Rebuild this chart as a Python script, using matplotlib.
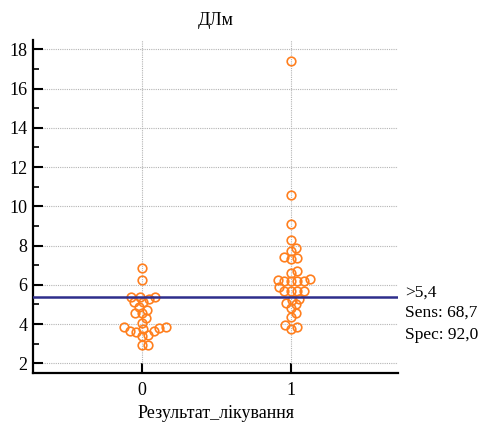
import numpy as np
import matplotlib
matplotlib.use("Agg")
import matplotlib.pyplot as plt
import matplotlib.transforms as mtransforms

plt.rcParams['font.family'] = ['Liberation Serif', 'DejaVu Serif']

# значення ДЛм по групах результату лікування
groups = [0, 1]
dlm_0 = [6.87, 6.26, 5.4, 5.4, 5.4, 5.3, 5.1, 5.1, 4.85, 4.72, 4.55, 4.55, 4.31,
         4.07, 3.81, 3.83, 3.83, 3.73, 3.44, 3.41, 3.61, 3.64, 3.64, 2.93, 2.93]
dlm_1 = [17.4, 10.6, 9.1, 8.3, 7.9, 7.7, 7.4, 7.35, 7.3, 6.7, 6.6, 6.3, 6.25, 6.2,
         6.2, 6.2, 6.2, 5.9, 5.7, 5.7, 5.7, 5.7,
         5.3, 5.25, 5.05, 5.0, 4.8, 4.55, 4.35, 3.77, 3.85, 3.94]
cutoff = 5.4
cutoff_text = ['>5,4', 'Sens: 68,7', 'Spec: 92,0']

orange = '#ff7f1e'
navy = '#2e2e8c'

fig = plt.figure(figsize=(4.82, 4.26), dpi=100)
ax = fig.add_axes([0.0685, 0.125, 0.7575, 0.781])
ax.set_xlim(-0.73, 1.72)
ax.set_ylim(1.52, 18.47)


def swarm(x0, values, diam):
    # розкладка точок без перекриття (в пікселях)
    trans = ax.transData
    pts = trans.transform(np.column_stack([np.full(len(values), x0), values]))
    order = np.argsort(pts[:, 1])
    placed = []
    xs = np.zeros(len(values))
    steps = np.arange(0, 60, 0.5)
    cands = np.ravel(np.column_stack([steps, -steps]))
    for i in order:
        py = pts[i, 1]
        for off in cands:
            px = pts[i, 0] + off
            if all((px - qx) ** 2 + (py - qy) ** 2 >= diam ** 2 for qx, qy in placed):
                break
        placed.append((px, py))
        xs[i] = px
    back = trans.inverted().transform(np.column_stack([xs, pts[:, 1]]))
    return back[:, 0]


for g, vals in zip(groups, [dlm_0, dlm_1]):
    xs = swarm(g, vals, 6.4)
    ax.plot(xs, vals, 'o', ms=6.2, mfc='none', mec=orange, mew=1.2, zorder=3)

ax.axhline(cutoff, color=navy, lw=1.8, zorder=4)

tr = mtransforms.blended_transform_factory(ax.transAxes, ax.transData)
for txt, yy in zip(cutoff_text, [5.58, 4.56, 3.44]):
    ax.text(1.02, yy, txt, transform=tr, fontsize=12.5, va='center', ha='left')

ax.set_xticks(groups)
ax.set_yticks(np.arange(2, 19, 2))
ax.set_yticks(np.arange(3, 18, 2), minor=True)
ax.grid(True, which='major', color='#b4b4b4', linestyle=(0, (1, 1)), lw=0.8)
ax.set_axisbelow(True)

for s in ['top', 'right']:
    ax.spines[s].set_visible(False)
for s in ['left', 'bottom']:
    ax.spines[s].set_linewidth(1.6)

ax.tick_params(axis='both', which='major', direction='in', length=7, width=1.5,
               labelsize=13)
ax.tick_params(axis='y', which='minor', direction='in', length=4, width=1.2)
ax.tick_params(axis='y', pad=4)
ax.tick_params(axis='x', pad=7)

ax.set_title('ДЛм', fontsize=13, pad=11)
ax.set_xlabel('Результат_лікування', fontsize=13, labelpad=4)

fig.savefig('out.png', dpi=100)
